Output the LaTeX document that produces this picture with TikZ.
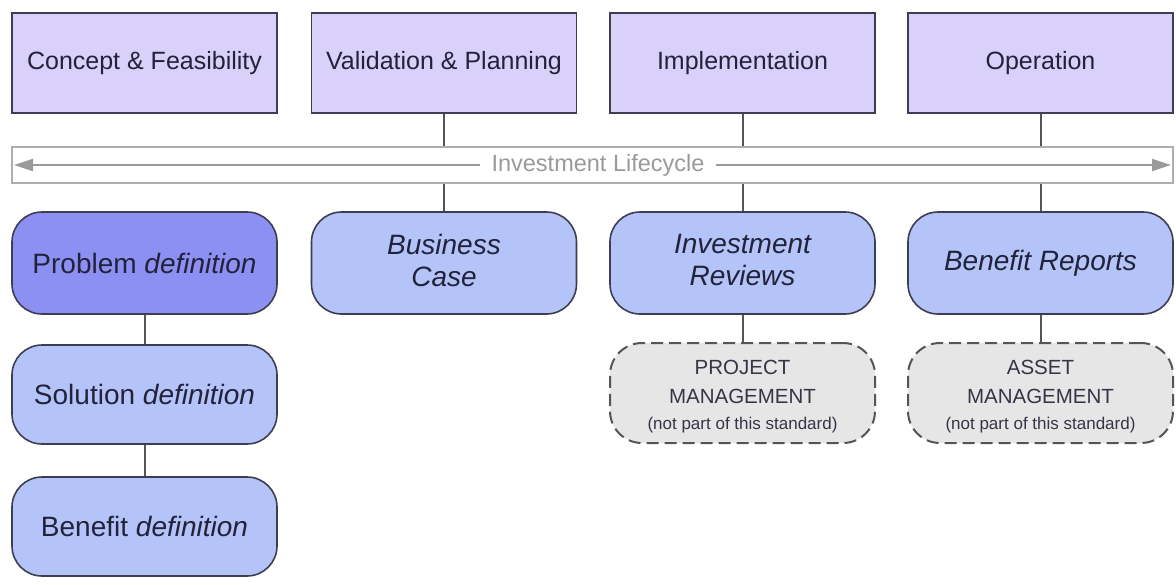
\documentclass[tikz,border=0pt]{standalone}
\usepackage{fontspec}
\setmainfont{Liberation Sans}
\usetikzlibrary{arrows.meta}
\definecolor{phase}{HTML}{DAD1FA}
\definecolor{probfill}{HTML}{8C90F2}
\definecolor{docfill}{HTML}{B4C4F8}
\definecolor{extfill}{HTML}{E6E6E6}
\definecolor{edge}{HTML}{3E3E52}
\definecolor{txt}{HTML}{22223A}
\definecolor{lcgray}{HTML}{9A9A9A}
\definecolor{conn}{HTML}{555555}
\tikzset{
  phasebox/.style={draw=edge, line width=1.6pt, fill=phase, minimum width=265pt, minimum height=100pt, inner sep=0pt, text=txt, font=\fontsize{25}{30}\selectfont},
  docbox/.style={draw=edge, line width=1.6pt, fill=docfill, rounded corners=30pt, minimum width=265pt, minimum height=100pt, inner sep=0pt, text=txt, align=center, font=\fontsize{28}{32}\selectfont},
  doctext/.style={yshift=3pt, inner sep=0pt, text=txt, align=center, font=\fontsize{28}{32}\selectfont\itshape},
  extbox/.style={draw=conn, line width=2pt, dash pattern=on 12pt off 6pt, fill=extfill, rounded corners=32pt, minimum width=265pt, minimum height=100pt, inner sep=0pt},
  exttext/.style={yshift=-4pt, inner sep=0pt, text=txt!80!gray, align=center, font=\fontsize{20.5}{29}\selectfont},
  connector/.style={draw=conn, line width=2pt},
  lcarrow/.style={draw=lcgray, line width=2pt, -{Triangle[length=19pt,width=12pt]}},
}
\begin{document}
\begin{tikzpicture}[x=1pt,y=-1pt]
\useasboundingbox (0,0) rectangle (1176,584);
% phases
\node[phasebox] (cf) at (144.5,63) {Concept \& Feasibility};
\node[phasebox] (vp) at (444,63) {Validation \& Planning};
\node[phasebox] (im) at (742.5,63) {Implementation};
\node[phasebox] (op) at (1040.5,63) {Operation};
% lifecycle band
\node[draw=lcgray!80, line width=1.6pt, fill=white, minimum width=1161pt, minimum height=36pt, inner sep=0pt] (band) at (592.5,165) {};
\node[text=lcgray, fill=white, inner xsep=11pt, inner ysep=2pt, font=\fontsize{23.5}{28}\selectfont] (lc) at (598,165) {Investment Lifecycle};
\coordinate (lcL) at (14,165);
\coordinate (lcR) at (1171,165);
\draw[lcarrow] (lc.west) -- (lcL);
\draw[lcarrow] (lc.east) -- (lcR);
% documents
\node[docbox, fill=probfill, minimum height=102pt] (pd) at (144.5,263) {Problem \textit{definition}};
\node[docbox, minimum height=102pt, label={[doctext]center:Business\\Case}] (bc) at (444,263) {};
\node[docbox, minimum height=102pt, label={[doctext]center:Investment\\Reviews}] (ir) at (742.5,263) {};
\node[docbox, minimum height=102pt] (br) at (1040.5,263) {\textit{Benefit Reports}};
\node[docbox, minimum height=99pt] (sd) at (144.5,394.5) {Solution \textit{definition}};
\node[docbox, minimum height=99pt] (bd) at (144.5,526.5) {Benefit \textit{definition}};
% external
\node[extbox, label={[exttext]center:PROJECT\\MANAGEMENT\\[-3pt]\fontsize{17}{22}\selectfont (not part of this standard)}] (pm) at (742.5,393) {};
\node[extbox, label={[exttext]center:ASSET\\MANAGEMENT\\[-3pt]\fontsize{17}{22}\selectfont (not part of this standard)}] (am) at (1040.5,393) {};
% connectors
\draw[connector] (vp.south) -- (vp.south |- band.north);
\draw[connector] (im.south) -- (im.south |- band.north);
\draw[connector] (op.south) -- (op.south |- band.north);
\draw[connector] (bc.north |- band.south) -- (bc.north);
\draw[connector] (ir.north |- band.south) -- (ir.north);
\draw[connector] (br.north |- band.south) -- (br.north);
\draw[connector] (pd.south) -- (sd.north);
\draw[connector] (sd.south) -- (bd.north);
\draw[connector] (ir.south) -- (pm.north);
\draw[connector] (br.south) -- (am.north);
\end{tikzpicture}
\end{document}
